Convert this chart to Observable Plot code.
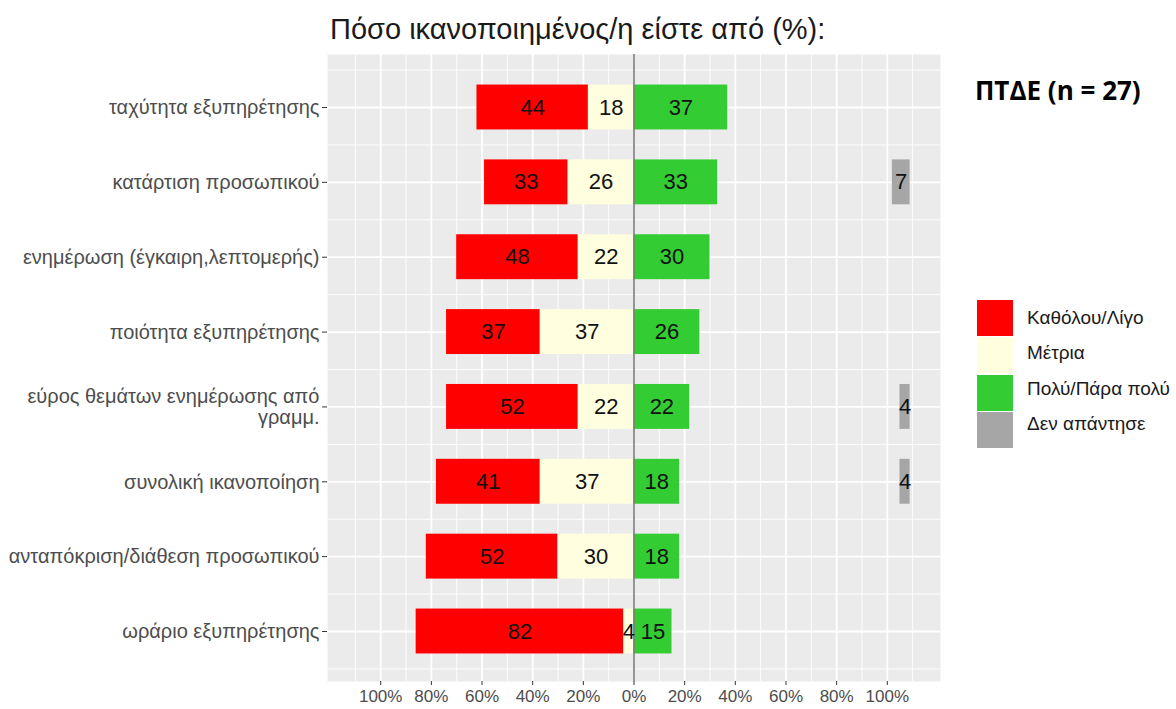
<!DOCTYPE html>
<html><head><meta charset="utf-8">
<script src="https://cdn.jsdelivr.net/npm/d3@7"></script>
<script src="https://cdn.jsdelivr.net/npm/@observablehq/plot@0.6"></script>
<style>
body{margin:0;background:#fff;}
#wrap{position:relative;width:1176px;height:709px;overflow:hidden;font-family:"Liberation Sans",Arial,sans-serif;}
#chart{position:absolute;left:0;top:0;}
#title{position:absolute;left:330px;top:13px;font-size:29px;line-height:32px;color:#1a1a1a;white-space:nowrap;}
#tag{position:absolute;left:975px;top:73px;font-family:"Open Sans",sans-serif;font-weight:700;font-size:26px;line-height:34px;color:#000;white-space:nowrap;}
#legend{position:absolute;left:977px;top:299px;}
.item{display:flex;align-items:center;height:37.5px;}
.sw{width:36px;height:36px;margin-right:14px;}
.lab{font-size:19px;color:#1a1a1a;white-space:nowrap;}
</style></head><body>
<div id="wrap">
  <div id="chart"></div>
  <div id="title">Πόσο ικανοποιημένος/η είστε από (%):</div>
  <div id="tag">ΠΤΔΕ (n = 27)</div>
  <div id="legend"></div>
</div>
<script>
const categories = [
  "ταχύτητα εξυπηρέτησης",
  "κατάρτιση προσωπικού",
  "ενημέρωση (έγκαιρη,λεπτομερής)",
  "ποιότητα εξυπηρέτησης",
  "εύρος θεμάτων ενημέρωσης από\nγραμμ.",
  "συνολική ικανοποίηση",
  "ανταπόκριση/διάθεση προσωπικού",
  "ωράριο εξυπηρέτησης"
];
const responses = ["Καθόλου/Λίγο", "Μέτρια", "Πολύ/Πάρα πολύ", "Δεν απάντησε"];
const colors = ["#ff0000", "#ffffe0", "#33cc33", "#a6a6a6"];
const low = [44, 33, 48, 37, 52, 41, 52, 82];
const mid = [18, 26, 22, 37, 22, 37, 30, 4];
const high = [37, 33, 30, 26, 22, 18, 18, 15];
const noAnswer = [0, 7, 0, 0, 4, 4, 0, 0];
const majorX = [-1, -0.8, -0.6, -0.4, -0.2, 0, 0.2, 0.4, 0.6, 0.8, 1];
const minorX = [-1.1, -0.9, -0.7, -0.5, -0.3, -0.1, 0.1, 0.3, 0.5, 0.7, 0.9, 1.1];
const naRight = 1.09;

const idx = categories.map((_, i) => i);
const minorY = categories.map((_, i) => i - 0.5).concat([categories.length - 0.5]);

const bars = [];
categories.forEach((c, i) => {
  const l = low[i] / 100, m = mid[i] / 100, h = high[i] / 100, n = noAnswer[i] / 100;
  bars.push({i, resp: responses[0], v: low[i], x1: -(l + m), x2: -m});
  bars.push({i, resp: responses[1], v: mid[i], x1: -m, x2: 0});
  bars.push({i, resp: responses[2], v: high[i], x1: 0, x2: h});
  if (n > 0) bars.push({i, resp: responses[3], v: noAnswer[i], x1: naRight - n, x2: naRight});
});

const chart = Plot.plot({
  width: 1176,
  height: 709,
  marginLeft: 327,
  marginRight: 236,
  marginTop: 54,
  marginBottom: 28,
  style: {fontFamily: "'Liberation Sans', Arial, sans-serif", background: "transparent"},
  x: {domain: [-1.21, 1.21], label: null},
  y: {domain: [7.668, -0.708], label: null},
  color: {domain: responses, range: colors},
  marks: [
    Plot.frame({fill: "#ebebeb", stroke: null}),
    Plot.ruleX(minorX, {stroke: "#ffffff", strokeWidth: 0.9}),
    Plot.ruleY(minorY, {stroke: "#ffffff", strokeWidth: 0.9}),
    Plot.ruleX(majorX, {stroke: "#ffffff", strokeWidth: 1.8}),
    Plot.ruleY(idx, {stroke: "#ffffff", strokeWidth: 1.8}),
    Plot.rect(bars, {x1: "x1", x2: "x2", y1: d => d.i - 0.3, y2: d => d.i + 0.3, fill: "resp"}),
    Plot.ruleX([0], {stroke: "#7a7a7a", strokeWidth: 1.6}),
    Plot.text(bars, {x: d => (d.x1 + d.x2) / 2, y: "i", text: d => String(d.v), fontSize: 22, fill: "#111"}),
    Plot.axisX({ticks: majorX, tickFormat: d => Math.round(Math.abs(d) * 100) + "%", fontSize: 17, tickSize: 4, tickPadding: 4, fill: "#4d4d4d", stroke: "#333", anchor: "bottom"}),
    Plot.axisY({ticks: idx, tickFormat: i => categories[i], fontSize: 20, lineHeight: 1.05, tickSize: 5, tickPadding: 3, fill: "#4d4d4d", stroke: "#333", anchor: "left"})
  ]
});
document.getElementById("chart").appendChild(chart);

const legend = document.getElementById("legend");
responses.forEach((r, k) => {
  const item = document.createElement("div");
  item.className = "item";
  const sw = document.createElement("div");
  sw.className = "sw";
  sw.style.background = colors[k];
  const lab = document.createElement("div");
  lab.className = "lab";
  lab.style.transform = `translateY(${-k * 2}px)`;
  lab.textContent = r;
  item.appendChild(sw);
  item.appendChild(lab);
  legend.appendChild(item);
});
</script>
</body></html>
